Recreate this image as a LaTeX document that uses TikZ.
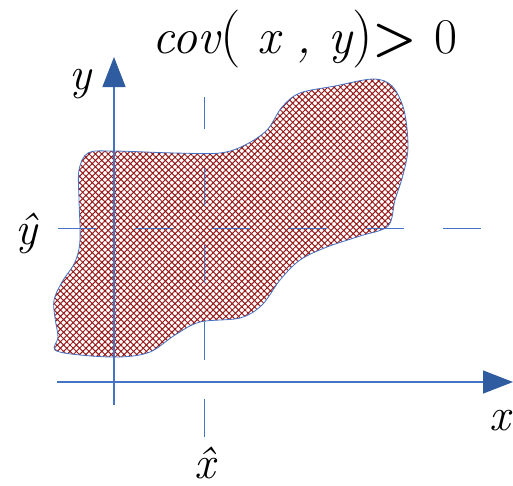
\documentclass[tikz,border=0pt]{standalone}
\usepackage{xcolor}
\usetikzlibrary{arrows.meta,patterns.meta}
\definecolor{AxisBlue}{RGB}{68,114,196}
\definecolor{TipBlue}{RGB}{47,92,160}
\definecolor{HatchRed}{RGB}{150,25,25}
\newcommand{\bigpar}[1]{{\fontsize{58}{58}\selectfont\upshape #1}}

\begin{document}
\begin{tikzpicture}[
    x=1pt, y=-1pt,
    axis/.style={
      draw=AxisBlue,
      line width=1.3pt,
      -{Triangle[length=30pt,width=23pt,color=TipBlue,fill=TipBlue]},
    },
    guide/.style={
      draw=AxisBlue,
      line width=0.9pt,
      dash pattern=on 38pt off 39pt,
    },
    region/.style={
      draw=AxisBlue,
      line width=0.8pt,
      pattern={Hatch[angle=45,distance=4.5pt,line width=1pt]},
      pattern color=HatchRed,
    },
    lbl/.style={
      font=\fontsize{46}{50}\selectfont\itshape,
      inner sep=0pt,
      anchor=base,
    },
  ]
    \useasboundingbox (0,0) rectangle (513,485);

    \draw[region] plot[smooth cycle, tension=0.55] coordinates {
      (88,153) (113,151) (175,153) (220,153) (245,145) (267,130)
      (282,107) (300,93) (335,86) (373,79) (392,86) (404,110)
      (408,147) (403,175) (395,200) (388,226) (360,236) (327,247)
      (300,260) (280,280) (262,305) (240,318) (200,322) (175,335)
      (150,352) (120,357) (80,355) (55,350) (58,337) (55,318)
      (54,300) (62,282) (75,262) (80,240) (79,200) (79,170)};

    \coordinate (hfrom) at (58,228);
    \coordinate (hto)   at (481,228);
    \coordinate (vfrom) at (204,437);
    \coordinate (vto)   at (204,97);
    \coordinate (xfrom) at (57,382);
    \coordinate (xto)   at (513,382);
    \coordinate (yfrom) at (114,405);
    \coordinate (yto)   at (114,57);

    \draw[guide] (hfrom) -- (hto);
    \draw[guide] (vfrom) -- (vto);
    \draw[axis] (xfrom) -- (xto);
    \draw[axis] (yfrom) -- (yto);

    \node[lbl, font=\fontsize{50}{54}\selectfont\itshape] (title) at (305,53)
      {cov\bigpar{(}\,\,x\,\,,\,\,y\bigpar{)}{\upshape\bfseries>}\,\,{\upshape 0}};
    \node[lbl] (ylab)  at (80,89)  {y};
    \node[lbl] (yhat)  at (26,244) {\^y};
    \node[lbl] (xhat)  at (205,478) {\^x};
    \node[lbl] (xlab)  at (500,430) {x};
  \end{tikzpicture}
\end{document}
